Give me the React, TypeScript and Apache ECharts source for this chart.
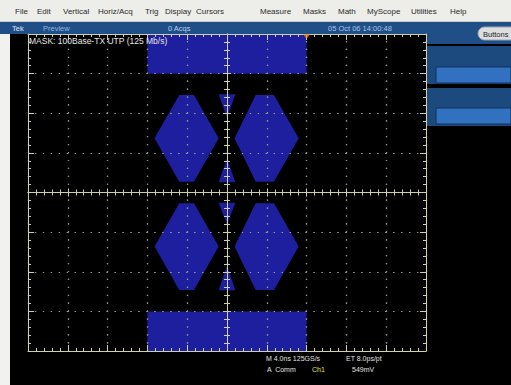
import React, { useEffect, useRef } from "react";
import * as echarts from "echarts";

// Screen graticule: 10 horizontal x 8 vertical divisions, centred on zero.
const xDivisions = [-5, 5];
const yDivisions = [-4, 4];

// Mask regions for 100Base-TX UTP, in screen divisions [x, y].
const maskTopBar = [[-2, 4], [2, 4], [2, 3], [-2, 3]];
const maskBottomBar = [[-2, -3], [2, -3], [2, -4], [-2, -4]];
const upperLeftEye = [[-1.82, 1.37], [-1.2, 2.46], [-0.83, 2.46], [-0.21, 1.37], [-0.83, 0.27], [-1.2, 0.27]];
const upperRightEye = [[0.19, 1.37], [0.72, 2.46], [1.18, 2.46], [1.8, 1.37], [1.18, 0.27], [0.72, 0.27]];
const lowerLeftEye = [[-1.82, -1.36], [-1.2, -0.27], [-0.83, -0.27], [-0.21, -1.36], [-0.83, -2.46], [-1.2, -2.46]];
const lowerRightEye = [[0.19, -1.36], [0.72, -0.27], [1.18, -0.27], [1.8, -1.36], [1.18, -2.46], [0.72, -2.46]];
const upperTopWedge = [[-0.21, 2.48], [0.21, 2.48], [0, 1.88]];
const upperBottomWedge = [[0, 0.86], [0.21, 0.26], [-0.21, 0.26]];
const lowerTopWedge = [[-0.21, -0.26], [0.21, -0.26], [0, -0.8]];
const lowerBottomWedge = [[0, -1.85], [0.21, -2.47], [-0.21, -2.47]];

const maskRegions = [
  maskTopBar,
  maskBottomBar,
  upperLeftEye,
  upperRightEye,
  lowerLeftEye,
  lowerRightEye,
  upperTopWedge,
  upperBottomWedge,
  lowerTopWedge,
  lowerBottomWedge,
];

// Trigger position marker on the top edge.
const triggerPosition = [[2, 4]];

// Menu bar and status texts.
const menuItems = [
  { label: "File", x: 15 },
  { label: "Edit", x: 37 },
  { label: "Vertical", x: 63 },
  { label: "Horiz/Acq", x: 98 },
  { label: "Trig", x: 145 },
  { label: "Display", x: 165 },
  { label: "Cursors", x: 196 },
  { label: "Measure", x: 260 },
  { label: "Masks", x: 303 },
  { label: "Math", x: 338 },
  { label: "MyScope", x: 367 },
  { label: "Utilities", x: 411 },
  { label: "Help", x: 450 },
];
const maskTitle = "MASK: 100Base-TX UTP (125 Mb/s)";
const statusTexts = {
  brand: "Tek",
  mode: "Preview",
  acquisitions: "0 Acqs",
  timestamp: "05 Oct 06 14:00:48",
};
const horizontalReadout = "M 4.0ns 125GS/s";
const equivalentTime = "ET 8.0ps/pt";
const triggerSource = "A  Comm";
const triggerChannel = "Ch1";
const triggerLevel = "549mV";

const MASK_COLOR = "#1d1f9e";
const GRID_COLOR = "#cfcfa8";
const DOT_COLOR = "#9a9a8c";
const UI_FONT = "'Liberation Sans', Arial, sans-serif";

function borderAxis(position: string, dotDash: number[]) {
  return {
    type: "value",
    min: 0,
    max: 0,
    interval: 1,
    position,
    z: 3,
    silent: true,
    axisLine: { show: true, onZero: false, lineStyle: { color: GRID_COLOR, width: 1 } },
    axisTick: { show: true, inside: true, length: 6, lineStyle: { color: GRID_COLOR, width: 1 } },
    minorTick: { show: true, splitNumber: 5, length: 3, lineStyle: { color: GRID_COLOR, width: 1 } },
    axisLabel: { show: false },
    splitLine: { show: true, lineStyle: { color: DOT_COLOR, width: 1.2, type: dotDash, dashOffset: 0.6 } },
  };
}

function centreAxis(position: string, inside: boolean) {
  return {
    type: "value",
    min: 0,
    max: 0,
    interval: 1,
    position,
    z: 3,
    silent: true,
    axisLine: { show: true, onZero: true, onZeroAxisIndex: 0, lineStyle: { color: GRID_COLOR, width: 1 } },
    axisTick: { show: true, inside, length: 4, lineStyle: { color: GRID_COLOR, width: 1 } },
    minorTick: { show: true, splitNumber: 5, length: 3, lineStyle: { color: GRID_COLOR, width: 1 } },
    axisLabel: { show: false },
    splitLine: { show: false },
  };
}

function withRange(axis: any, range: number[]) {
  return { ...axis, min: range[0], max: range[1] };
}

function text(t: string, x: number, y: number, fill: string, fontSize = 8, extra: any = {}) {
  return {
    type: "text",
    silent: true,
    z: 10,
    style: { text: t, x, y, fill, fontSize, fontFamily: UI_FONT, verticalAlign: "middle", ...extra },
  };
}

export default function App() {
  const ref = useRef<HTMLDivElement>(null);

  useEffect(() => {
    if (!ref.current) return;
    const chart = echarts.init(ref.current, undefined, { renderer: "svg" });

    const chrome: any[] = [
      // menu bar
      { type: "rect", silent: true, shape: { x: 0, y: 0, width: 511, height: 22 }, style: { fill: "#ededea" } },
      { type: "rect", silent: true, shape: { x: 0, y: 21, width: 511, height: 1 }, style: { fill: "#c9c9c4" } },
      // status bar
      { type: "rect", silent: true, shape: { x: 0, y: 22, width: 511, height: 12 }, style: { fill: "#1f4f86" } },
      { type: "rect", silent: true, shape: { x: 427, y: 33, width: 84, height: 11 }, style: { fill: "#1f4f86" } },
      // left margin
      { type: "rect", silent: true, shape: { x: 0, y: 34, width: 10, height: 351 }, style: { fill: "#f1f1ef" } },
      // side panels
      { type: "rect", silent: true, shape: { x: 427, y: 46, width: 84, height: 38 }, style: { fill: "#1d4a7e" } },
      { type: "rect", silent: true, shape: { x: 436, y: 67, width: 75, height: 16 }, style: { fill: "#3271c0", stroke: "#12305a", lineWidth: 1 } },
      { type: "rect", silent: true, shape: { x: 427, y: 88, width: 84, height: 38 }, style: { fill: "#1d4a7e" } },
      { type: "rect", silent: true, shape: { x: 436, y: 108, width: 75, height: 16 }, style: { fill: "#3271c0", stroke: "#12305a", lineWidth: 1 } },
      // Buttons pill
      { type: "rect", silent: true, shape: { x: 478, y: 27, width: 42, height: 13, r: 6.5 }, style: { fill: "#dedede", stroke: "#9aa6b4", lineWidth: 1 } },
      text("Buttons", 483, 34, "#222222", 7.5),
    ];

    menuItems.forEach((m) => chrome.push(text(m.label, m.x, 11, "#2b2b2b", 8)));
    chrome.push(text(statusTexts.brand, 12, 28, "#dfe9f5", 7.5));
    chrome.push(text(statusTexts.mode, 43, 28, "#8fb6e2", 7.5));
    chrome.push(text(statusTexts.acquisitions, 168, 28, "#b8d0ec", 7.5));
    chrome.push(text(statusTexts.timestamp, 328, 28, "#a9c6ea", 7.5));
    chrome.push(text(maskTitle, 29, 41, "#e6e6e6", 8.5, { fontWeight: "normal" }));
    chrome.push(text(horizontalReadout, 266, 358, "#e0e0e0", 7));
    chrome.push(text(equivalentTime, 346, 358, "#e0e0e0", 7));
    chrome.push(text(triggerSource, 267, 369, "#e0e0e0", 7));
    chrome.push(text(triggerChannel, 312, 369, "#e6e63c", 7));
    chrome.push(text(triggerLevel, 352, 369, "#e0e0e0", 7));

    const option: any = {
      animation: false,
      backgroundColor: "#000000",
      grid: { left: 28, top: 34, width: 398, height: 317, containLabel: false },
      xAxis: [
        withRange(borderAxis("bottom", [1.2, 6.73]), xDivisions),
        withRange(borderAxis("top", [1.2, 6.73]), xDivisions),
        withRange(centreAxis("bottom", true), xDivisions),
        withRange(centreAxis("bottom", false), xDivisions),
      ],
      yAxis: [
        withRange(borderAxis("left", [1.2, 6.76]), yDivisions),
        withRange(borderAxis("right", [1.2, 6.76]), yDivisions),
        withRange(centreAxis("left", true), yDivisions),
        withRange(centreAxis("left", false), yDivisions),
      ],
      graphic: { elements: chrome },
      series: [
        {
          type: "custom",
          name: "mask",
          xAxisIndex: 0,
          yAxisIndex: 0,
          z: 2,
          silent: true,
          data: maskRegions.map((_, i) => [i]),
          renderItem: (params: any, api: any) => {
            const region = maskRegions[params.dataIndex];
            return {
              type: "polygon",
              shape: { points: region.map((p) => api.coord(p)) },
              style: { fill: MASK_COLOR },
            };
          },
        },
        {
          type: "scatter",
          name: "trigger",
          xAxisIndex: 0,
          yAxisIndex: 0,
          z: 10,
          silent: true,
          symbol: "triangle",
          symbolRotate: 180,
          symbolSize: [7, 5],
          symbolOffset: [0, 2.5],
          itemStyle: { color: "#f08a32" },
          data: triggerPosition,
        },
      ],
    };

    chart.setOption(option);
    return () => chart.dispose();
  }, []);

  return (
    <div
      ref={ref}
      style={{ position: "absolute", left: 0, top: 0, width: 511, height: 385 }}
    />
  );
}
